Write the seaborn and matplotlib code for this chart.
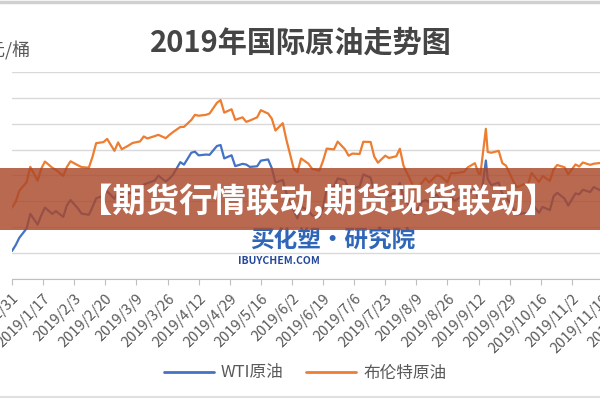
import pandas as pd
import matplotlib
matplotlib.use("Agg")
import matplotlib.pyplot as plt
import seaborn as sns
from matplotlib.patches import Rectangle
from matplotlib.lines import Line2D

# 2019 international crude prices (USD/bbl)
dates = [
    "2018-12-31", "2019-01-02", "2019-01-04", "2019-01-08", "2019-01-10", "2019-01-14",
    "2019-01-16", "2019-01-18", "2019-01-22", "2019-01-24", "2019-01-28", "2019-01-30",
    "2019-02-01", "2019-02-05", "2019-02-07", "2019-02-11", "2019-02-13", "2019-02-15",
    "2019-02-19", "2019-02-21", "2019-02-25", "2019-02-27", "2019-03-01", "2019-03-05",
    "2019-03-07", "2019-03-11", "2019-03-13", "2019-03-15", "2019-03-19", "2019-03-21",
    "2019-03-25", "2019-03-27", "2019-03-29", "2019-04-02", "2019-04-04", "2019-04-08",
    "2019-04-10", "2019-04-12", "2019-04-16", "2019-04-18", "2019-04-22", "2019-04-24",
    "2019-04-26", "2019-04-30", "2019-05-02", "2019-05-06", "2019-05-08", "2019-05-10",
    "2019-05-14", "2019-05-16", "2019-05-20", "2019-05-22", "2019-05-24", "2019-05-28",
    "2019-05-30", "2019-06-03", "2019-06-05", "2019-06-07", "2019-06-11", "2019-06-13",
    "2019-06-17", "2019-06-19", "2019-06-21", "2019-06-25", "2019-06-27", "2019-07-01",
    "2019-07-03", "2019-07-05", "2019-07-09", "2019-07-11", "2019-07-15", "2019-07-17",
    "2019-07-19", "2019-07-23", "2019-07-25", "2019-07-29", "2019-07-31", "2019-08-02",
    "2019-08-06", "2019-08-08", "2019-08-12", "2019-08-14", "2019-08-16", "2019-08-20",
    "2019-08-22", "2019-08-26", "2019-08-28", "2019-08-30", "2019-09-04", "2019-09-06",
    "2019-09-10", "2019-09-12", "2019-09-13", "2019-09-16", "2019-09-17", "2019-09-19",
    "2019-09-23", "2019-09-25", "2019-09-27", "2019-10-01", "2019-10-03", "2019-10-07",
    "2019-10-09", "2019-10-11", "2019-10-15", "2019-10-17", "2019-10-21", "2019-10-23",
    "2019-10-25", "2019-10-29", "2019-10-31", "2019-11-04", "2019-11-06", "2019-11-08",
    "2019-11-12", "2019-11-14", "2019-11-18", "2019-11-20", "2019-11-22", "2019-11-26",
    "2019-11-29", "2019-12-03", "2019-12-06", "2019-12-10", "2019-12-13", "2019-12-17",
    "2019-12-20", "2019-12-24", "2019-12-27", "2019-12-31",
]
wti = [
    45.41, 46.54, 47.96, 49.78, 52.59, 50.51, 52.31, 53.80, 52.57, 53.13, 51.99, 54.23,
    55.26, 53.66, 52.64, 52.41, 53.90, 55.59, 56.09, 56.96, 55.48, 56.94, 55.80, 56.56,
    56.66, 56.79, 58.26, 58.52, 59.03, 59.98, 58.82, 59.41, 60.14, 62.58, 62.10, 64.40,
    64.61, 63.89, 64.05, 64.00, 65.70, 65.89, 63.30, 63.91, 61.81, 62.25, 62.12, 61.66,
    61.78, 62.87, 63.10, 61.42, 58.63, 59.14, 56.59, 53.25, 51.68, 53.99, 53.27, 52.28,
    51.93, 53.76, 57.43, 57.83, 59.43, 59.09, 57.34, 57.51, 57.83, 60.20, 59.58, 56.78,
    55.63, 56.77, 56.02, 56.87, 58.58, 55.66, 53.63, 52.54, 54.93, 55.23, 54.87, 56.34,
    55.35, 53.64, 55.78, 55.10, 56.26, 56.52, 57.40, 55.09, 54.85, 62.90, 59.34, 58.13,
    58.64, 56.49, 55.91, 53.62, 52.45, 52.75, 52.59, 54.70, 52.81, 53.93, 53.31, 55.97,
    56.66, 55.54, 54.18, 56.54, 56.35, 57.24, 56.80, 57.77, 57.05, 57.11, 57.77, 58.41,
    55.17, 56.10, 59.20, 59.24, 60.07, 60.94, 60.44, 61.11, 61.72, 61.06,
]
brent = [
    53.80, 54.91, 57.06, 58.72, 61.68, 59.00, 61.32, 62.70, 61.50, 61.09, 59.93, 61.65,
    62.75, 61.98, 61.63, 61.51, 63.61, 66.25, 66.45, 67.07, 64.76, 66.39, 65.07, 65.86,
    66.30, 66.58, 67.55, 67.16, 67.61, 67.86, 67.21, 67.83, 68.39, 69.37, 69.40, 70.73,
    71.73, 71.55, 71.72, 71.97, 74.04, 74.57, 72.15, 72.80, 70.75, 71.24, 70.37, 70.62,
    71.24, 72.62, 71.97, 70.99, 68.69, 70.11, 66.87, 61.28, 60.63, 63.29, 62.29, 61.31,
    60.94, 62.82, 65.20, 65.05, 66.55, 65.06, 63.82, 64.23, 64.16, 66.52, 66.48, 63.66,
    62.47, 63.83, 63.39, 63.71, 65.17, 61.89, 58.94, 57.38, 58.57, 59.48, 58.64, 60.03,
    59.92, 58.70, 60.49, 60.43, 60.70, 61.54, 62.38, 60.38, 60.22, 69.02, 64.55, 64.40,
    64.77, 62.39, 61.91, 58.89, 57.71, 58.35, 58.32, 60.51, 58.74, 59.91, 58.96, 61.17,
    62.02, 61.59, 60.23, 62.13, 61.74, 62.51, 62.06, 62.28, 62.44, 62.40, 63.39, 64.27,
    62.43, 60.82, 64.39, 64.34, 65.22, 66.10, 66.14, 67.20, 68.16, 66.00,
]
series_names = ["WTI原油", "布伦特原油"]
colors = ["#4472C4", "#ED7D31"]

df = pd.DataFrame({
    "date": pd.to_datetime(dates * 2),
    "price": wti + brent,
    "name": [series_names[0]] * len(wti) + [series_names[1]] * len(brent),
})

sns.set_style("white")
plt.rcParams['font.family'] = ['Noto Sans CJK SC', 'DejaVu Sans']

fig = plt.figure(figsize=(6, 4), dpi=100)
# plot area runs past the right edge, like the cropped original
ax = fig.add_axes([0.02, 0.3025, 1.113, 0.5175])

sns.lineplot(data=df, x="date", y="price", hue="name", palette=colors,
             linewidth=1.6, ax=ax, legend=False, zorder=3)

ax.set_xlim(pd.Timestamp("2018-12-31"), pd.Timestamp("2019-12-31"))
ax.set_ylim(40, 80)
ax.set_yticks(range(40, 81, 5))
ax.yaxis.grid(True, color="#d9d9d9", linewidth=1)
ax.tick_params(axis="y", left=False, labelleft=False)

ticks = pd.date_range("2018-12-31", "2019-12-31", freq="17D")
ax.set_xticks(ticks)
ax.set_xticklabels([f"{d.year}/{d.month}/{d.day}" for d in ticks],
                   rotation=45, ha="right", rotation_mode="anchor",
                   fontsize=10.5, color="#595959")
ax.tick_params(axis="x", bottom=True, length=4, color="#bfbfbf", pad=5)
ax.set_xlabel("")
ax.set_ylabel("")
for side in ["top", "right", "left"]:
    ax.spines[side].set_visible(False)
ax.spines["bottom"].set_color("#bfbfbf")

fig.text(301 / 600, 1 - 43 / 400, "2019年国际原油走势图", ha="center", va="center",
         fontsize=21, fontweight="bold", color="#454545")
fig.text(30 / 600, 1 - 51 / 400, "美元/桶", ha="right", va="center",
         fontsize=13, color="#595959")

# watermark
fig.text(333 / 600, 1 - 240 / 400, "买化塑·研究院", ha="center", va="center",
         fontsize=17, fontweight="bold", style="italic", color="#2f66b8", zorder=1)
fig.text(279 / 600, 1 - 261 / 400, "IBUYCHEM.COM", ha="center", va="center",
         fontsize=7.5, fontweight="bold", style="italic", color="#24489a", zorder=1)

# banner over the middle
fig.patches.append(Rectangle((0, 1 - 230 / 400), 1, 62 / 400, transform=fig.transFigure,
                             facecolor="#aa482a", alpha=0.82, edgecolor="none", zorder=5))
fig.text(318 / 600, 1 - 201 / 400, "【期货行情联动,期货现货联动】", ha="center", va="center",
         fontsize=24, fontweight="bold", color="white", zorder=6)

# page borders
fig.add_artist(Line2D([0, 1], [1 - 1.5 / 400] * 2, color="#d0d0d0", linewidth=2.5))
fig.add_artist(Line2D([0, 1], [1 - 397 / 400] * 2, color="#e0e0e0", linewidth=1.5))

handles = [Line2D([], [], color=c, linewidth=2) for c in colors]
fig.legend(handles, series_names, loc="center", bbox_to_anchor=(305 / 600, 1 - 373 / 400),
           ncol=2, frameon=False, fontsize=12, handlelength=3.0, columnspacing=1.4,
           handletextpad=0.4, labelcolor="#595959")

fig.savefig("out.png", dpi=100)
